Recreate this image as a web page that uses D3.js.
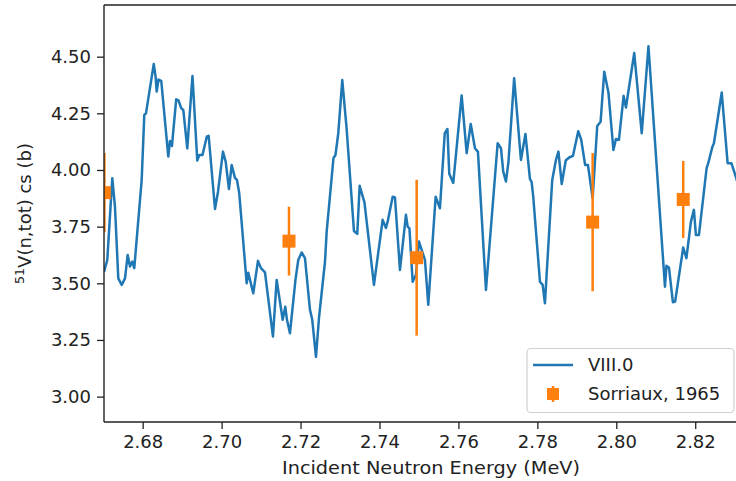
<!DOCTYPE html>
<html>
<head>
<meta charset="utf-8">
<script src="https://cdn.jsdelivr.net/npm/d3@7/dist/d3.min.js"></script>
<style>
  html, body { margin: 0; padding: 0; background: #fff; }
  svg { display: block; font-family: "DejaVu Sans", sans-serif; }
</style>
</head>
<body>
<svg id="chart" width="736" height="481"></svg>
<script>
// Evaluated total cross section of V-51 (VIII.0), energy in MeV
const evalEnergy = [
  2.67020, 2.67103, 2.67230, 2.67298, 2.67382, 2.67468, 2.67552, 2.67620, 2.67678, 2.67737,
  2.67787, 2.67975, 2.68041, 2.68084, 2.68281, 2.68329, 2.68355, 2.68400, 2.68471, 2.68649,
  2.68692, 2.68742, 2.68849, 2.68907, 2.68978, 2.69029, 2.69130, 2.69262, 2.69383, 2.69434,
  2.69515, 2.69624, 2.69672, 2.69832, 2.69908, 2.70034, 2.70103, 2.70186, 2.70255, 2.70338,
  2.70389, 2.70447, 2.70635, 2.70675, 2.70802, 2.70921, 2.70997, 2.71099, 2.71301, 2.71395,
  2.71547, 2.71613, 2.71656, 2.71732, 2.71871, 2.71942, 2.72028, 2.72112, 2.72239, 2.72297,
  2.72391, 2.72467, 2.72619, 2.72662, 2.72834, 2.72885, 2.72956, 2.73057, 2.73168, 2.73353,
  2.73437, 2.73498, 2.73564, 2.73619, 2.73860, 2.74080, 2.74164, 2.74207, 2.74334, 2.74392,
  2.74519, 2.74671, 2.74714, 2.74759, 2.74841, 2.74924, 2.75000, 2.75069, 2.75152, 2.75236,
  2.75423, 2.75532, 2.75654, 2.75722, 2.75768, 2.75869, 2.76082, 2.76209, 2.76312, 2.76419,
  2.76495, 2.76698, 2.76994, 2.77078, 2.77136, 2.77204, 2.77268, 2.77412, 2.77584, 2.77698,
  2.77812, 2.77855, 2.77896, 2.78066, 2.78134, 2.78192, 2.78377, 2.78471, 2.78534, 2.78618,
  2.78719, 2.78805, 2.78902, 2.79036, 2.79112, 2.79211, 2.79282, 2.79401, 2.79517, 2.79603,
  2.79695, 2.79801, 2.79928, 2.79991, 2.80067, 2.80186, 2.80245, 2.80455, 2.80645, 2.80815,
  2.81233, 2.81271, 2.81334, 2.81435, 2.81491, 2.81696, 2.81777, 2.81891, 2.81967, 2.82018,
  2.82094, 2.82289, 2.82330, 2.82436, 2.82474, 2.82672, 2.82821, 2.82917, 2.83031, 2.83158
];
const evalXs = [
  3.550, 3.603, 3.964, 3.838, 3.522, 3.493, 3.522, 3.625, 3.574, 3.596,
  3.567, 3.956, 4.243, 4.250, 4.468, 4.410, 4.346, 4.399, 4.393, 4.059,
  4.128, 4.106, 4.312, 4.307, 4.272, 4.265, 4.095, 4.415, 4.042, 4.066,
  4.066, 4.147, 4.151, 3.828, 3.903, 4.081, 4.037, 3.916, 4.022, 3.965,
  3.956, 3.897, 3.500, 3.547, 3.456, 3.599, 3.567, 3.548, 3.265, 3.515,
  3.339, 3.397, 3.339, 3.280, 3.515, 3.603, 3.636, 3.611, 3.383, 3.339,
  3.175, 3.347, 3.594, 3.728, 4.052, 4.066, 4.162, 4.397, 4.181, 3.731,
  3.718, 3.930, 3.890, 3.857, 3.493, 3.780, 3.744, 3.772, 3.882, 3.879,
  3.559, 3.802, 3.750, 3.743, 3.507, 3.537, 3.684, 3.647, 3.603, 3.405,
  3.882, 3.831, 4.162, 4.181, 3.983, 3.943, 4.329, 4.074, 4.203, 4.096,
  4.080, 3.471, 4.118, 4.096, 3.993, 3.949, 4.036, 4.405, 4.044, 4.159,
  3.961, 3.947, 3.882, 3.507, 3.493, 3.412, 3.956, 4.044, 4.081, 3.938,
  4.042, 4.055, 4.062, 4.171, 4.133, 4.022, 4.022, 3.875, 4.194, 4.213,
  4.434, 4.342, 4.088, 4.137, 4.133, 4.327, 4.276, 4.516, 4.162, 4.546,
  3.485, 3.577, 3.570, 3.416, 3.419, 3.658, 3.611, 3.772, 3.824, 3.713,
  3.713, 4.008, 4.030, 4.103, 4.118, 4.342, 4.030, 4.030, 3.969, 3.890
];

// Sorriaux, 1965 measurements with uncertainties
const expEnergy = [2.6703, 2.71707, 2.74942, 2.79401, 2.81696];
const expXs     = [3.900, 3.686, 3.613, 3.770, 3.870];
const expErr    = [0.175, 0.152, 0.344, 0.305, 0.170];

const xTicks = [2.68, 2.70, 2.72, 2.74, 2.76, 2.78, 2.80, 2.82];
const yTicks = [3.00, 3.25, 3.50, 3.75, 4.00, 4.25, 4.50];

const seriesNames = ["VIII.0", "Sorriaux, 1965"];
const xLabel = "Incident Neutron Energy (MeV)";

const BLUE = "#1f77b4", ORANGE = "#ff7f0e";
const FONT = 18;

const svg = d3.select("#chart");
const L = 104, R = 741, T = 5, B = 422;

const x = d3.scaleLinear().domain([2.6702, 2.8316]).range([L, R]);
const y = d3.scaleLinear().domain([2.888, 4.728]).range([B, T]);

svg.append("defs").append("clipPath").attr("id", "plotclip")
  .append("rect").attr("x", L).attr("y", T).attr("width", R - L).attr("height", B - T);

const plot = svg.append("g").attr("clip-path", "url(#plotclip)");

// evaluated curve
const lineData = evalEnergy.map((e, i) => [e, evalXs[i]]);
plot.append("path")
  .datum(lineData)
  .attr("fill", "none")
  .attr("stroke", BLUE)
  .attr("stroke-width", 2.5)
  .attr("stroke-linejoin", "round")
  .attr("d", d3.line().x(d => x(d[0])).y(d => y(d[1])));

// measured points with error bars
const pts = expEnergy.map((e, i) => ({ e, v: expXs[i], s: expErr[i] }));
const MS = 13;
plot.selectAll("line.err").data(pts).enter().append("line")
  .attr("class", "err")
  .attr("x1", d => x(d.e)).attr("x2", d => x(d.e))
  .attr("y1", d => y(d.v - d.s)).attr("y2", d => y(d.v + d.s))
  .attr("stroke", ORANGE).attr("stroke-width", 2.5);
plot.selectAll("rect.pt").data(pts).enter().append("rect")
  .attr("class", "pt")
  .attr("x", d => x(d.e) - MS / 2).attr("y", d => y(d.v) - MS / 2)
  .attr("width", MS).attr("height", MS)
  .attr("fill", ORANGE);

// axes
const xAxis = d3.axisBottom(x).tickValues(xTicks).tickFormat(d3.format(".2f"))
  .tickSize(7).tickPadding(6).tickSizeOuter(0);
const yAxis = d3.axisLeft(y).tickValues(yTicks).tickFormat(d3.format(".2f"))
  .tickSize(7).tickPadding(6).tickSizeOuter(0);

const gx = svg.append("g").attr("transform", `translate(0,${B})`).call(xAxis);
const gy = svg.append("g").attr("transform", `translate(${L},0)`).call(yAxis);
[gx, gy].forEach(g => {
  g.select(".domain").remove();
  g.selectAll(".tick line").attr("stroke", "#222").attr("stroke-width", 1.3);
  g.selectAll(".tick text").attr("fill", "#222").style("font-size", FONT + "px")
    .style("font-family", "DejaVu Sans, sans-serif");
});

// spines
const spine = svg.append("g").attr("stroke", "#222").attr("stroke-width", 1.4).attr("fill", "none");
spine.append("line").attr("x1", L).attr("x2", L).attr("y1", T).attr("y2", B);
spine.append("line").attr("x1", L).attr("x2", R).attr("y1", B).attr("y2", B);
spine.append("line").attr("x1", L).attr("x2", R).attr("y1", T).attr("y2", T);
spine.append("line").attr("x1", R).attr("x2", R).attr("y1", T).attr("y2", B);

// axis titles
svg.append("text")
  .attr("x", 431).attr("y", 474)
  .attr("text-anchor", "middle").attr("fill", "#222")
  .attr("textLength", 298).attr("lengthAdjust", "spacingAndGlyphs")
  .style("font-size", FONT + "px")
  .text(xLabel);

const yl = svg.append("text")
  .attr("transform", `translate(29,${(T + B) / 2}) rotate(-90)`)
  .attr("text-anchor", "middle").attr("fill", "#222")
  .style("font-size", FONT + "px");
yl.append("tspan").attr("dy", "-0.4em").style("font-size", (FONT * 0.7) + "px").text("51");
yl.append("tspan").attr("dy", "0.4em").text("V(n,tot) cs (b)");

// legend
const lg = svg.append("g");
lg.append("rect")
  .attr("x", 527).attr("y", 348.5).attr("width", 207).attr("height", 64)
  .attr("rx", 4).attr("ry", 4)
  .attr("fill", "#fff").attr("fill-opacity", 0.85)
  .attr("stroke", "#d0d0d0").attr("stroke-width", 1.2);
lg.append("line")
  .attr("x1", 533).attr("x2", 573).attr("y1", 365).attr("y2", 365)
  .attr("stroke", BLUE).attr("stroke-width", 2.5);
lg.append("line")
  .attr("x1", 553).attr("x2", 553).attr("y1", 386).attr("y2", 402)
  .attr("stroke", ORANGE).attr("stroke-width", 2.5);
lg.append("rect")
  .attr("x", 553 - 6).attr("y", 394 - 6).attr("width", 12).attr("height", 12)
  .attr("fill", ORANGE);
lg.selectAll("text.lt").data(seriesNames).enter().append("text")
  .attr("class", "lt")
  .attr("x", 588).attr("y", (d, i) => 365 + i * 29)
  .attr("dy", "0.35em").attr("fill", "#222")
  .style("font-size", FONT + "px")
  .text(d => d);
</script>
</body>
</html>
